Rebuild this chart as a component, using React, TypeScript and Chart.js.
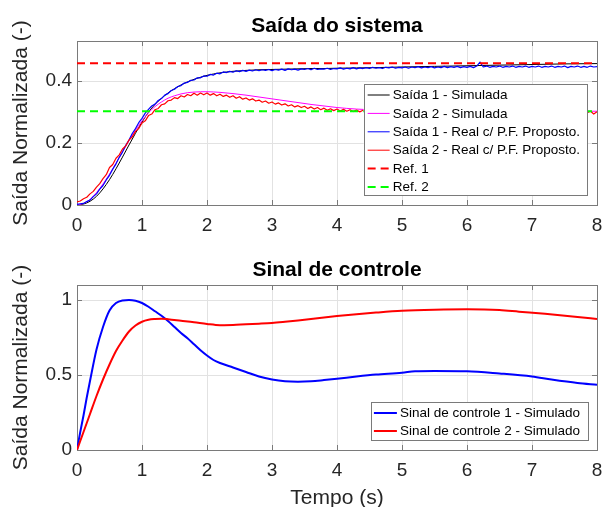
import React, { useEffect, useRef } from 'react';
import { Chart, registerables } from 'chart.js';
Chart.register(...registerables);

const FONT = '"Liberation Sans", Arial, Helvetica, sans-serif';

// ---------- axis ticks ----------
const xTicks = [0, 1, 2, 3, 4, 5, 6, 7, 8];
const xTickLabels = ['0', '1', '2', '3', '4', '5', '6', '7', '8'];
const topYTicks = [0, 0.2, 0.4];
const topYTickLabels = ['0', '0.2', '0.4'];
const botYTicks = [0, 0.5, 1];
const botYTickLabels = ['0', '0.5', '1'];

const topTitle = 'Saída do sistema';
const botTitle = 'Sinal de controle';
const yAxisTitle = 'Saída Normalizada (-)';
const xAxisTitle = 'Tempo (s)';

// ---------- top chart: simulated outputs ----------
const tSim = [0, 0.1, 0.2, 0.3, 0.4, 0.5, 0.6, 0.7, 0.8, 0.9, 1.0, 1.1, 1.2, 1.3, 1.4, 1.5, 1.6, 1.7, 1.8, 1.9, 2.0, 2.2, 2.4, 2.6, 2.8, 3.0, 3.2, 3.4, 3.6, 3.8, 4.0, 4.3, 4.6, 5.0, 5.5, 6.0, 6.5, 7.0, 7.5, 8.0];
const saida1Sim = [0, 0.003, 0.012, 0.028, 0.052, 0.082, 0.117, 0.155, 0.194, 0.232, 0.268, 0.3, 0.325, 0.345, 0.362, 0.376, 0.388, 0.398, 0.406, 0.413, 0.419, 0.427, 0.432, 0.435, 0.437, 0.438, 0.439, 0.44, 0.441, 0.441, 0.442, 0.443, 0.444, 0.446, 0.448, 0.45, 0.452, 0.454, 0.456, 0.457];
const saida2Sim = [0, 0.005, 0.018, 0.04, 0.068, 0.1, 0.135, 0.172, 0.208, 0.242, 0.272, 0.298, 0.318, 0.333, 0.345, 0.353, 0.359, 0.363, 0.365, 0.366, 0.366, 0.364, 0.36, 0.355, 0.349, 0.343, 0.337, 0.331, 0.325, 0.32, 0.315, 0.31, 0.307, 0.305, 0.304, 0.303, 0.303, 0.303, 0.303, 0.303];

// ---------- top chart: measured outputs (sampled every 0.05 s) ----------
const tReal = Array.from({ length: 161 }, (_, i) => i * 0.05);
const saida1Real = [
  0.002, 0.004, 0.005, 0.011, 0.016, 0.027, 0.036, 0.051, 0.063, 0.081,
  0.096, 0.116, 0.133, 0.154, 0.171, 0.193, 0.21, 0.231, 0.247, 0.266,
  0.28, 0.297, 0.309, 0.32, 0.326, 0.338, 0.344, 0.355, 0.36, 0.37,
  0.374, 0.383, 0.386, 0.394, 0.396, 0.403, 0.404, 0.411, 0.411, 0.417,
  0.416, 0.422, 0.42, 0.426, 0.424, 0.43, 0.428, 0.432, 0.429, 0.434,
  0.431, 0.435, 0.432, 0.436, 0.433, 0.437, 0.434, 0.437, 0.435, 0.438,
  0.434, 0.438, 0.436, 0.439, 0.435, 0.44, 0.437, 0.439, 0.436, 0.44,
  0.438, 0.441, 0.437, 0.442, 0.438, 0.44, 0.439, 0.442, 0.438, 0.441,
  0.44, 0.443, 0.439, 0.442, 0.44, 0.444, 0.44, 0.443, 0.441, 0.444,
  0.441, 0.445, 0.442, 0.444, 0.441, 0.445, 0.443, 0.446, 0.442, 0.445,
  0.443, 0.446, 0.442, 0.446, 0.444, 0.447, 0.443, 0.446, 0.444, 0.447,
  0.443, 0.446, 0.444, 0.448, 0.444, 0.447, 0.445, 0.448, 0.444, 0.447,
  0.445, 0.448, 0.444, 0.449, 0.462, 0.446, 0.449, 0.445, 0.448, 0.446,
  0.449, 0.445, 0.448, 0.446, 0.449, 0.445, 0.448, 0.446, 0.449, 0.445,
  0.448, 0.446, 0.449, 0.445, 0.448, 0.446, 0.449, 0.445, 0.448, 0.446,
  0.449, 0.444, 0.448, 0.446, 0.449, 0.445, 0.448, 0.445, 0.449, 0.446,
  0.447,
];
const saida2Real = [
  0.01, 0.013, 0.02, 0.025, 0.036, 0.044, 0.058, 0.069, 0.085, 0.098,
  0.121, 0.131, 0.151, 0.162, 0.181, 0.191, 0.21, 0.22, 0.238, 0.247,
  0.265, 0.272, 0.289, 0.294, 0.308, 0.312, 0.324, 0.327, 0.337, 0.339,
  0.347, 0.344, 0.353, 0.349, 0.357, 0.353, 0.361, 0.355, 0.362, 0.356,
  0.362, 0.355, 0.36, 0.353, 0.358, 0.351, 0.355, 0.348, 0.353, 0.345,
  0.35, 0.342, 0.346, 0.339, 0.343, 0.336, 0.339, 0.332, 0.336, 0.329,
  0.333, 0.326, 0.33, 0.323, 0.327, 0.32, 0.324, 0.317, 0.321, 0.315,
  0.319, 0.312, 0.317, 0.31, 0.315, 0.308, 0.313, 0.306, 0.311, 0.305,
  0.31, 0.304, 0.309, 0.303, 0.308, 0.302, 0.307, 0.301, 0.306, 0.3,
  0.305, 0.299, 0.305, 0.299, 0.304, 0.298, 0.304, 0.299, 0.303, 0.298,
  0.304, 0.298, 0.303, 0.299, 0.304, 0.298, 0.303, 0.299, 0.304, 0.298,
  0.303, 0.299, 0.304, 0.298, 0.303, 0.299, 0.304, 0.298, 0.303, 0.299,
  0.304, 0.298, 0.303, 0.299, 0.304, 0.298, 0.303, 0.299, 0.304, 0.298,
  0.303, 0.299, 0.304, 0.298, 0.303, 0.299, 0.304, 0.298, 0.303, 0.299,
  0.304, 0.298, 0.303, 0.299, 0.304, 0.298, 0.303, 0.299, 0.304, 0.298,
  0.303, 0.299, 0.304, 0.298, 0.303, 0.299, 0.304, 0.298, 0.303, 0.294,
  0.301,
];

// ---------- references ----------
const tRef = [0, 8];
const ref1 = [0.458, 0.458];
const ref2 = [0.303, 0.303];

// ---------- bottom chart: control signals ----------
const tCtrl1 = [0, 0.05, 0.1, 0.15, 0.2, 0.3, 0.4, 0.5, 0.6, 0.7, 0.8, 0.9, 1.0, 1.1, 1.2, 1.3, 1.4, 1.5, 1.6, 1.7, 1.8, 1.9, 2.0, 2.1, 2.2, 2.4, 2.6, 2.8, 3.0, 3.2, 3.4, 3.6, 3.8, 4.0, 4.3, 4.6, 5.0, 5.2, 5.5, 6.0, 6.5, 7.0, 7.3, 7.7, 8.0];
const ctrl1 = [0, 0.12, 0.23, 0.35, 0.46, 0.67, 0.82, 0.93, 0.98, 0.997, 1.0, 0.995, 0.98, 0.955, 0.925, 0.895, 0.86, 0.82, 0.78, 0.745, 0.705, 0.665, 0.63, 0.6, 0.58, 0.55, 0.52, 0.49, 0.47, 0.458, 0.455, 0.458, 0.466, 0.475, 0.49, 0.503, 0.515, 0.525, 0.527, 0.525, 0.51, 0.49, 0.47, 0.447, 0.435];
const tCtrl2 = [0, 0.1, 0.2, 0.3, 0.4, 0.5, 0.6, 0.7, 0.8, 0.9, 1.0, 1.1, 1.2, 1.3, 1.4, 1.6, 1.8, 2.0, 2.2, 2.4, 2.6, 2.8, 3.0, 3.2, 3.4, 3.6, 3.8, 4.0, 4.3, 4.6, 5.0, 5.5, 6.0, 6.5, 6.8, 7.2, 7.7, 8.0];
const ctrl2 = [0, 0.12, 0.24, 0.36, 0.47, 0.57, 0.66, 0.73, 0.79, 0.83, 0.855, 0.868, 0.873, 0.875, 0.872, 0.862, 0.852, 0.84, 0.832, 0.833, 0.838, 0.842, 0.847, 0.855, 0.864, 0.874, 0.884, 0.893, 0.905, 0.916, 0.928, 0.935, 0.938, 0.933, 0.922, 0.908, 0.887, 0.873];

const zip = (xs: number[], ys: number[]) => xs.map((x, i) => ({ x, y: ys[i] }));

const BOX = '#7a7a7a';
const TXT = '#262626';
const GRID = '#e2e2e2';

// frame (box + inward ticks)
const framePlugin = {
  id: 'frame',
  beforeDatasetsDraw(chart: any) {
    const { ctx, chartArea: a, scales } = chart;
    ctx.save();
    ctx.strokeStyle = BOX;
    ctx.lineWidth = 1;
    ctx.strokeRect(a.left + 0.5, a.top + 0.5, a.right - a.left, a.bottom - a.top);
    ctx.beginPath();
    for (const t of scales.x.ticks) {
      const px = Math.round(scales.x.getPixelForValue(t.value)) + 0.5;
      ctx.moveTo(px, a.bottom); ctx.lineTo(px, a.bottom - 5);
      ctx.moveTo(px, a.top); ctx.lineTo(px, a.top + 5);
    }
    for (const t of scales.y.ticks) {
      const py = Math.round(scales.y.getPixelForValue(t.value)) + 0.5;
      ctx.moveTo(a.left, py); ctx.lineTo(a.left + 5, py);
      ctx.moveTo(a.right, py); ctx.lineTo(a.right - 5, py);
    }
    ctx.stroke();
    ctx.restore();
  },
};

// title centred over the plot area
const plotTitlePlugin = {
  id: 'plotTitle',
  afterDraw(chart: any, _args: any, opts: any) {
    const { ctx, chartArea: a } = chart;
    ctx.save();
    ctx.font = `bold ${opts.size}px ${FONT}`;
    ctx.fillStyle = '#000';
    ctx.textAlign = 'center';
    ctx.textBaseline = 'middle';
    ctx.fillText(opts.text, (a.left + a.right) / 2, a.top + opts.offsetY);
    ctx.restore();
  },
};

// boxed legend inside the plot area
const boxLegendPlugin = {
  id: 'boxLegend',
  afterDatasetsDraw(chart: any, _args: any, opts: any) {
    const { ctx, chartArea: a } = chart;
    const ds = chart.data.datasets;
    ctx.save();
    ctx.font = `${opts.fontSize}px ${FONT}`;
    let maxW = 0;
    for (const d of ds) maxW = Math.max(maxW, ctx.measureText(d.label).width);
    const w = opts.padL + opts.sample + opts.gap + maxW + opts.padR;
    const h = opts.padT + (ds.length - 1) * opts.rowH + opts.padB;
    const right = a.right - opts.right;
    const left = right - w;
    const top = opts.top != null ? a.top + opts.top : a.bottom - opts.bottom - h;
    ctx.fillStyle = '#fff';
    ctx.fillRect(left, top, w, h);
    ctx.strokeStyle = BOX;
    ctx.lineWidth = 1;
    ctx.strokeRect(Math.round(left) + 0.5, Math.round(top) + 0.5, Math.round(w), Math.round(h));
    ds.forEach((d: any, i: number) => {
      const y = top + opts.padT + i * opts.rowH;
      ctx.beginPath();
      ctx.strokeStyle = d.borderColor;
      ctx.lineWidth = d.legendWidth || d.borderWidth;
      ctx.setLineDash(d.borderDash || []);
      ctx.moveTo(left + opts.padL, y);
      ctx.lineTo(left + opts.padL + opts.sample, y);
      ctx.stroke();
      ctx.setLineDash([]);
      ctx.fillStyle = '#000';
      ctx.textAlign = 'left';
      ctx.textBaseline = 'middle';
      ctx.fillText(d.label, left + opts.padL + opts.sample + opts.gap, y + 0.5);
    });
    ctx.restore();
  },
};

function tickSetter(values: number[]) {
  return (scale: any) => {
    scale.ticks = values.map((v) => ({ value: v }));
  };
}
function tickLabel(values: number[], labels: string[]) {
  return (v: any) => {
    const i = values.findIndex((t) => Math.abs(t - v) < 1e-9);
    return i >= 0 ? labels[i] : '';
  };
}

function makeOptions(cfg: {
  ymax: number; yTicks: number[]; yLabels: string[]; canvasH: number; plotTop: number; plotBottom: number;
  xTitle?: string; title: string; legend: any;
}) {
  return {
    responsive: false,
    animation: false as const,
    events: [] as any[],
    layout: { padding: { left: 0, right: 6, top: cfg.plotTop, bottom: 0 } },
    plugins: {
      legend: { display: false },
      tooltip: { enabled: false },
      title: { display: false },
      plotTitle: { text: cfg.title, size: 21, offsetY: -15 },
      boxLegend: cfg.legend,
    },
    scales: {
      x: {
        type: 'linear' as const,
        min: 0,
        max: 8,
        afterBuildTicks: tickSetter(xTicks),
        afterFit: (s: any) => {
          s.height = cfg.canvasH - cfg.plotBottom;
          s.paddingLeft = 0;
          s.paddingRight = 0;
        },
        grid: { color: GRID, lineWidth: 1, drawTicks: false },
        border: { display: false },
        ticks: {
          callback: tickLabel(xTicks, xTickLabels),
          color: TXT,
          padding: 9,
          maxRotation: 0,
          autoSkip: false,
          font: { family: FONT, size: 19 },
        },
        title: cfg.xTitle
          ? { display: true, text: cfg.xTitle, color: TXT, font: { family: FONT, size: 21, lineHeight: 1 }, padding: { top: 0, bottom: -2 } }
          : { display: false },
      },
      y: {
        type: 'linear' as const,
        min: 0,
        max: cfg.ymax,
        afterBuildTicks: tickSetter(cfg.yTicks),
        afterFit: (s: any) => { s.width = 77; },
        grid: { color: GRID, lineWidth: 1, drawTicks: false },
        border: { display: false },
        ticks: {
          callback: tickLabel(cfg.yTicks, cfg.yLabels),
          color: TXT,
          padding: 5,
          autoSkip: false,
          font: { family: FONT, size: 19 },
        },
        title: {
          display: true,
          text: yAxisTitle,
          color: TXT,
          font: { family: FONT, size: 21, lineHeight: 1.2 },
          padding: { top: 9, bottom: 0 },
        },
      },
    },
  };
}

const W = 603;
const TOP_H = 250;
const BOT_H = 257;

export default function App() {
  const topRef = useRef<HTMLCanvasElement>(null);
  const botRef = useRef<HTMLCanvasElement>(null);

  useEffect(() => {
    const line = { pointRadius: 0, fill: false, borderJoinStyle: 'round' as const };
    const top = new Chart(topRef.current!, {
      type: 'line',
      data: {
        datasets: [
          { ...line, label: 'Saída 1 - Simulada', data: zip(tSim, saida1Sim), borderColor: '#000000', borderWidth: 1, cubicInterpolationMode: 'monotone', order: 6 },
          { ...line, label: 'Saída 2 - Simulada', data: zip(tSim, saida2Sim), borderColor: '#ff00ff', borderWidth: 1, cubicInterpolationMode: 'monotone', order: 5 },
          { ...line, label: 'Saída 1 - Real c/ P.F. Proposto.', data: zip(tReal, saida1Real), borderColor: '#0000ff', borderWidth: 1.2, legendWidth: 1, order: 4 },
          { ...line, label: 'Saída 2 - Real c/ P.F. Proposto.', data: zip(tReal, saida2Real), borderColor: '#ff0000', borderWidth: 1.2, legendWidth: 1, order: 3 },
          { ...line, label: 'Ref. 1', data: zip(tRef, ref1), borderColor: '#ff0000', borderWidth: 2, borderDash: [8, 5], order: 2 },
          { ...line, label: 'Ref. 2', data: zip(tRef, ref2), borderColor: '#00ff00', borderWidth: 2, borderDash: [8, 5], order: 1 },
        ] as any,
      },
      options: makeOptions({
        ymax: 0.53, yTicks: topYTicks, yLabels: topYTickLabels, canvasH: TOP_H, plotTop: 41, plotBottom: 205,
        title: topTitle,
        legend: { fontSize: 13.5, rowH: 18.4, padL: 4, sample: 22, gap: 3, padR: 7, padT: 11, padB: 8, right: 10, top: 43 },
      }) as any,
      plugins: [framePlugin, plotTitlePlugin, boxLegendPlugin],
    });

    const bot = new Chart(botRef.current!, {
      type: 'line',
      data: {
        datasets: [
          { ...line, label: 'Sinal de controle 1 - Simulado', data: zip(tCtrl1, ctrl1), borderColor: '#0000ff', borderWidth: 2, cubicInterpolationMode: 'monotone', order: 2 },
          { ...line, label: 'Sinal de controle 2 - Simulado', data: zip(tCtrl2, ctrl2), borderColor: '#ff0000', borderWidth: 2, cubicInterpolationMode: 'monotone', order: 1 },
        ] as any,
      },
      options: makeOptions({
        ymax: 1.1, yTicks: botYTicks, yLabels: botYTickLabels, canvasH: BOT_H, plotTop: 35, plotBottom: 200,
        xTitle: xAxisTitle,
        title: botTitle,
        legend: { fontSize: 13.5, rowH: 18, padL: 3, sample: 23, gap: 3, padR: 8, padT: 11, padB: 9, right: 9, bottom: 10 },
      }) as any,
      plugins: [framePlugin, plotTitlePlugin, boxLegendPlugin],
    });

    return () => {
      top.destroy();
      bot.destroy();
    };
  }, []);

  return (
    <div style={{ position: 'absolute', left: 0, top: 0, width: W, height: TOP_H + BOT_H, overflow: 'hidden', background: '#fff' }}>
      <canvas ref={topRef} width={W} height={TOP_H} style={{ display: 'block', width: W, height: TOP_H }} />
      <canvas ref={botRef} width={W} height={BOT_H} style={{ display: 'block', width: W, height: BOT_H }} />
    </div>
  );
}
